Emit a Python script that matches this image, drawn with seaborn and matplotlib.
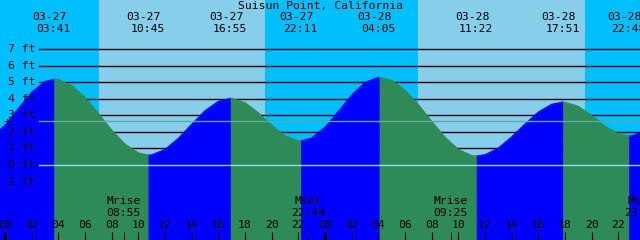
import numpy as np
import pandas as pd
import matplotlib
matplotlib.use("Agg")
import matplotlib.pyplot as plt
import seaborn as sns
from matplotlib import transforms

# ---------------- data ----------------
title = "Suisun Point, California"
days = ["03-27", "03-28"]

# hourly tide heights (ft), hour 0 = 03-27 00:00
hours = list(range(-1, 49))
heights = [1.69, 2.40, 3.41, 4.40, 5.05, 5.17, 4.81, 4.08, 3.12, 2.11,
           1.26, 0.73, 0.61, 0.94, 1.61, 2.46, 3.28, 3.85, 4.03, 3.77,
           3.16, 2.40, 1.76, 1.46, 1.63, 2.28, 3.24, 4.23, 4.99, 5.30,
           5.12, 4.53, 3.65, 2.64, 1.68, 0.94, 0.57, 0.62, 1.02, 1.70,
           2.48, 3.20, 3.67, 3.80, 3.55, 2.99, 2.35, 1.88, 1.76, 2.06]

# high / low tide extremes
ext_dates = ["03-27", "03-27", "03-27", "03-27", "03-28", "03-28", "03-28", "03-28"]
ext_times = ["03:41", "10:45", "16:55", "22:11", "04:05", "11:22", "17:51", "22:48"]
ext_heights = [5.19, 0.60, 4.03, 1.45, 5.30, 0.54, 3.81, 1.75]
ext_types = ["H", "L", "H", "L", "H", "L", "H", "L"]

# daylight
sun_dates = ["03-27", "03-27", "03-28", "03-28"]
sun_times = ["07:03", "19:30", "06:59", "19:30"]

# moon events
moon_dates = ["03-27", "03-27", "03-28", "03-28"]
moon_kinds = ["Mrise", "Mset", "Mrise", "Mset"]
moon_times = ["08:55", "22:44", "09:25", "23:42"]

ft_levels = [7, 6, 5, 4, 3, 2, 1, 0, -1]
mean_level = 2.69
hour_ticks = list(range(0, 49, 2))

# ---------------- helpers ----------------
def to_hours(d, hm):
    h, m = hm.split(":")
    return days.index(d) * 24 + int(h) + int(m) / 60.0

W, H = 640, 240
PX_PER_H = 13.333
X0 = 5.0            # pixel of 03-27 00:00
PX_PER_FT = 16.53
Y0 = 165.0          # pixel of 0 ft

xlim = ((0 - X0) / PX_PER_H, (W - X0) / PX_PER_H)
ylim = (-(H - Y0) / PX_PER_FT, Y0 / PX_PER_FT)

NIGHT = "#00BFFF"
DAY = "#87CEEB"
RISE = "#0000FF"
FALL = "#2E8B57"

plt.rcParams["font.family"] = ["DejaVu Sans Mono", "DejaVu Sans"]
FS = 8.2

fig = plt.figure(figsize=(6.4, 2.4), dpi=100)
ax = fig.add_axes([0, 0, 1, 1])
ax.set_xlim(*xlim)
ax.set_ylim(*ylim)
ax.set_axis_off()

# ---------------- background ----------------
ax.axvspan(xlim[0], xlim[1], color=NIGHT, zorder=0, lw=0)
sun_t = [to_hours(d, t) for d, t in zip(sun_dates, sun_times)]
for a, b in zip(sun_t[0::2], sun_t[1::2]):
    ax.axvspan(a, b, color=DAY, zorder=0.5, lw=0)

for v in ft_levels:
    if 1 <= v <= 7:
        ax.axhline(v, xmin=39 / W, xmax=1, color="black", lw=1.0, zorder=1)

# ---------------- tide curve ----------------
ext_t = [to_hours(d, t) for d, t in zip(ext_dates, ext_times)]
pts = pd.DataFrame({"t": list(hours) + ext_t, "h": list(heights) + ext_heights})
pts = pts.sort_values("t").drop_duplicates("t").reset_index(drop=True)

bounds = [-np.inf] + ext_t + [np.inf]
rows = []
for i in range(len(bounds) - 1):
    lo, hi = bounds[i], bounds[i + 1]
    if i < len(ext_t):
        rising = ext_types[i] == "H"
    else:
        rising = ext_types[-1] == "L"
    seg = pts[(pts.t >= lo) & (pts.t <= hi)].copy()
    seg["seg"] = i
    seg["phase"] = "rise" if rising else "fall"
    rows.append(seg)
curve = pd.concat(rows, ignore_index=True)

for i, seg in curve.groupby("seg"):
    c = RISE if seg.phase.iloc[0] == "rise" else FALL
    ax.fill_between(seg.t, seg.h, ylim[0] - 1, color=c, lw=0.4, ec=c, zorder=2)

sns.lineplot(data=curve, x="t", y="h", hue="phase", units="seg", estimator=None,
             palette={"rise": RISE, "fall": FALL}, legend=False, lw=0.8,
             ax=ax, zorder=2.5)
ax.set_xlim(*xlim)
ax.set_ylim(*ylim)
ax.set_axis_off()

ax.axhline(mean_level, xmin=39 / W, xmax=1, color="#5DAA9A", lw=1.0, zorder=3)
ax.axhline(0, xmin=39 / W, xmax=1, color="#8EDAEE", lw=1.0, zorder=3)

# ---------------- texts ----------------
tr_fy = transforms.blended_transform_factory(fig.transFigure, ax.transData)
tr_xf = transforms.blended_transform_factory(ax.transData, fig.transFigure)

def fy(px):
    return 1 - px / H

for v in ft_levels:
    ax.text(35.5 / W, v, f"{v} ft", transform=tr_fy, ha="right", va="center",
            fontsize=FS, color="black", zorder=5)
ax.text(7 / W, 2.57, "+", transform=tr_fy, ha="center", va="center",
        fontsize=FS + 1, color="black", zorder=5)

ax.text(0.5, fy(6), title, transform=fig.transFigure, ha="center", va="center",
        fontsize=FS, color="black", zorder=5)

for d, tm, t in zip(ext_dates, ext_times, ext_t):
    ax.text(t - 4.5 / PX_PER_H, fy(17), d, transform=tr_xf, ha="center",
            va="center", fontsize=FS, zorder=5)
    ax.text(t - 0.5 / PX_PER_H, fy(29.5), tm, transform=tr_xf, ha="center",
            va="center", fontsize=FS, zorder=5)

moon_t = [to_hours(d, t) for d, t in zip(moon_dates, moon_times)]
for k, tm, t in zip(moon_kinds, moon_times, moon_t):
    ax.text(t, fy(201.5), k, transform=tr_xf, ha="center", va="center",
            fontsize=FS, zorder=5)
    ax.text(t, fy(213.5), tm, transform=tr_xf, ha="center", va="center",
            fontsize=FS, zorder=5)
    ax.vlines(t, fy(240), fy(232), transform=tr_xf, color="black", lw=0.7,
              zorder=5)

for h in hour_ticks:
    ax.text(h, fy(225), f"{h % 24:02d}", transform=tr_xf, ha="center",
            va="center", fontsize=FS, zorder=5)
    thick = h % 24 == 0
    ax.vlines(h, fy(240), fy(232), transform=tr_xf, color="black",
              lw=2.2 if thick else 0.8, zorder=5)

fig.savefig("out.png", dpi=100)
